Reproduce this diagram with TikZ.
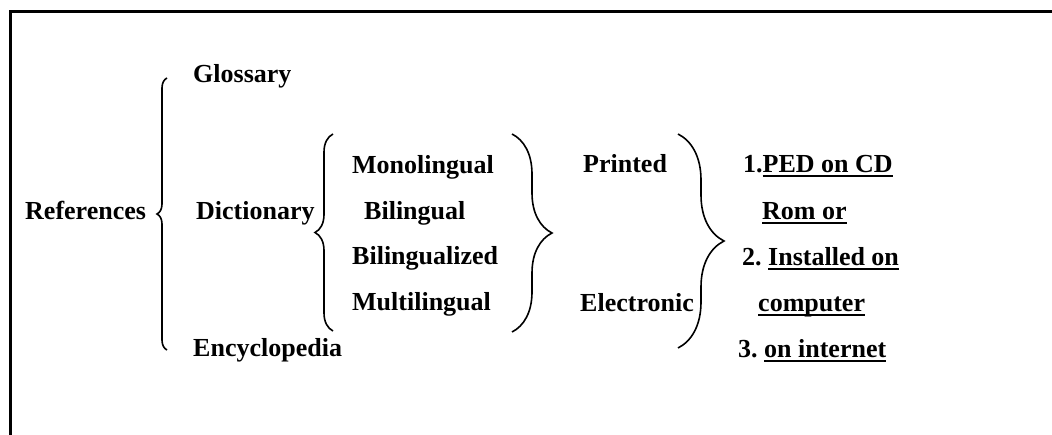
\documentclass[tikz,border=0pt]{standalone}
\usepackage{fontspec}
\setmainfont{Liberation Serif}
\usetikzlibrary{positioning,decorations.pathreplacing}
\newcommand{\ulword}[1]{\setbox0\hbox{#1}\rlap{\rule[-4.5pt]{\wd0}{2.4pt}}\box0}

\begin{document}
\begin{tikzpicture}[x=1pt, y=-1pt,
    word/.style={anchor=base west, inner sep=0pt, font=\fontsize{26}{30}\selectfont\bfseries\frenchspacing},
    brc/.style={decorate, line width=1.6pt, decoration={brace, amplitude=#1}}]
    \useasboundingbox (0,0) rectangle (1052,435);
    \draw[line width=3pt] (1052,11.5) -- (10,11.5) -- (10,435);
    % first level
    \node[word] (ref)   at (25,220)  {References};
    \node[word] (gloss) at (193,83)  {Glossary};
    \node[word] (dict)  at (196,220) {Dictionary};
    \node[word] (enc)   at (193,357) {Encyclopedia};
    % kinds of dictionary
    \node[word] (mono)  at (352,174) {Monolingual};
    \node[word] (bil)   at (364,220) {Bilingual};
    \node[word] (bilz)  at (352,265) {Bilingualized};
    \node[word] (multi) at (352,311) {Multilingual};
    \node[word] (print) at (583,173) {Printed};
    \node[word] (elec)  at (580,312) {Electronic};
    % electronic forms
    \node[word] (ped)   at (743,173) {1.\ulword{PED on CD}};
    \node[word] (rom)   at (762,220) {\ulword{Rom or}};
    \node[word] (inst)  at (742,266) {2. \ulword{Installed on}};
    \node[word] (comp)  at (758,312) {\ulword{computer}};
    \node[word] (net)   at (738,358) {3. \ulword{on internet}};
    % braces
    \coordinate (lbot) at (167,350);  \coordinate (ltop) at (167,78);
    \coordinate (dbot) at (333,331);  \coordinate (dtop) at (333,134);
    \coordinate (mtop) at (512,134);  \coordinate (mbot) at (512,332);
    \coordinate (rtop) at (678,134);  \coordinate (rbot) at (678,348);
    \draw[brc=10] (lbot) -- (ltop);
    \draw[brc=18] (dbot) -- (dtop);
    \draw[brc=40] (mtop) -- (mbot);
    \draw[brc=46] (rtop) -- (rbot);
\end{tikzpicture}
\end{document}
